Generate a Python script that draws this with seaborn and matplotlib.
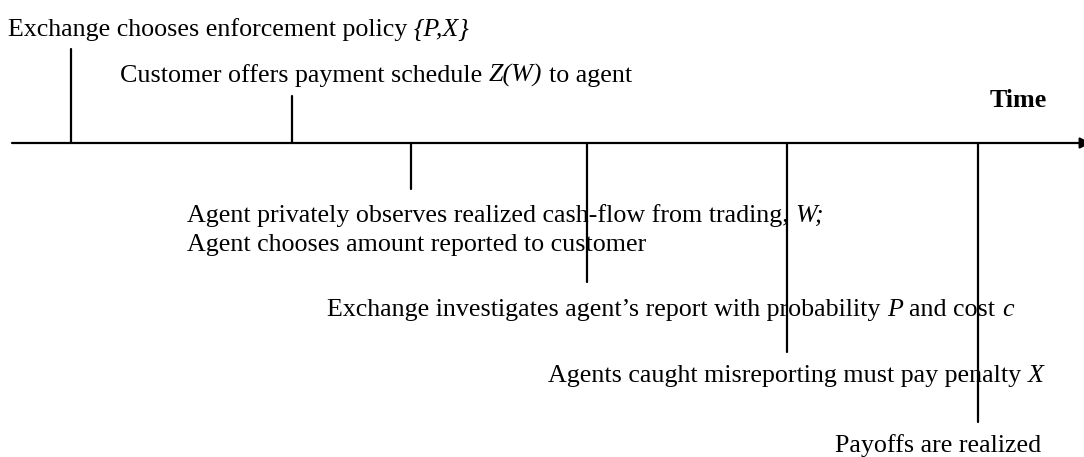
import matplotlib
matplotlib.use("Agg")
import matplotlib.pyplot as plt
import seaborn as sns
import pandas as pd

# timeline events: position along the time axis and where each stem ends
event_time = [71, 292, 411, 587, 787, 978]
stem_end = [49, 96, 189, 282, 352, 422]
axis_y = 143

# each label is a list of (text, italic) pieces
labels = [
    [("Exchange chooses enforcement policy ", False), ("{P,X}", True)],
    [("Customer offers payment schedule ", False), ("Z(W)", True), (" to agent", False)],
    [("Agent privately observes realized cash-flow from trading, ", False), ("W;", True)],
    [("Agent chooses amount reported to customer", False)],
    [("Exchange investigates agent’s report with probability ", False), ("P", True),
     (" and cost ", False), ("c", True)],
    [("Agents caught misreporting must pay penalty ", False), ("X", True)],
    [("Payoffs are realized", False)],
]
label_x = [8, 120, 187, 187, 327, 548, 835]
label_y = [36, 82, 222, 251, 316, 382, 452]

sns.set_theme(style="white")
plt.rcParams["font.family"] = ["Liberation Serif", "DejaVu Serif"]
plt.rcParams["text.color"] = "black"

fig = plt.figure(figsize=(10.84, 4.57), dpi=100)
ax = fig.add_axes([0, 0, 1, 1])
ax.set_xlim(0, 1084)
ax.set_ylim(457, 0)

stems = pd.DataFrame({
    "x": [t for t in event_time for _ in range(2)],
    "y": [v for e in stem_end for v in (axis_y, e)],
    "event": [i for i in range(len(event_time)) for _ in range(2)],
})
sns.lineplot(data=stems, x="x", y="y", units="event", estimator=None,
             sort=False, color="black", lw=1.6, ax=ax)

# main time axis with arrow
ax.annotate("", xy=(1091, axis_y), xytext=(12, axis_y), annotation_clip=False,
            arrowprops=dict(arrowstyle="-|>", color="black", lw=1.6,
                            mutation_scale=16, shrinkA=0, shrinkB=0))

fs = 18.7
renderer = fig.canvas.get_renderer()


def width(s, style):
    t = ax.text(0, 0, s, fontsize=fs, fontstyle=style)
    w = t.get_window_extent(renderer).width
    t.remove()
    return w


space_w = width("a a", "normal") - width("aa", "normal")

for pieces, x, y in zip(labels, label_x, label_y):
    cx = x
    for s, ital in pieces:
        style = "italic" if ital else "normal"
        core = s.strip(" ")
        cx += space_w * (len(s) - len(s.lstrip(" ")))
        ax.text(cx, y, core, fontsize=fs, fontstyle=style, va="baseline",
                ha="left", color="black")
        cx += width(core, style)
        cx += space_w * (len(s) - len(s.rstrip(" ")))

ax.text(990, 107, "Time", fontsize=fs, fontweight="bold", va="baseline",
        ha="left", color="black")

ax.set_xlim(0, 1084)
ax.set_ylim(457, 0)
ax.axis("off")

fig.savefig("out.png", dpi=100, facecolor="white")
